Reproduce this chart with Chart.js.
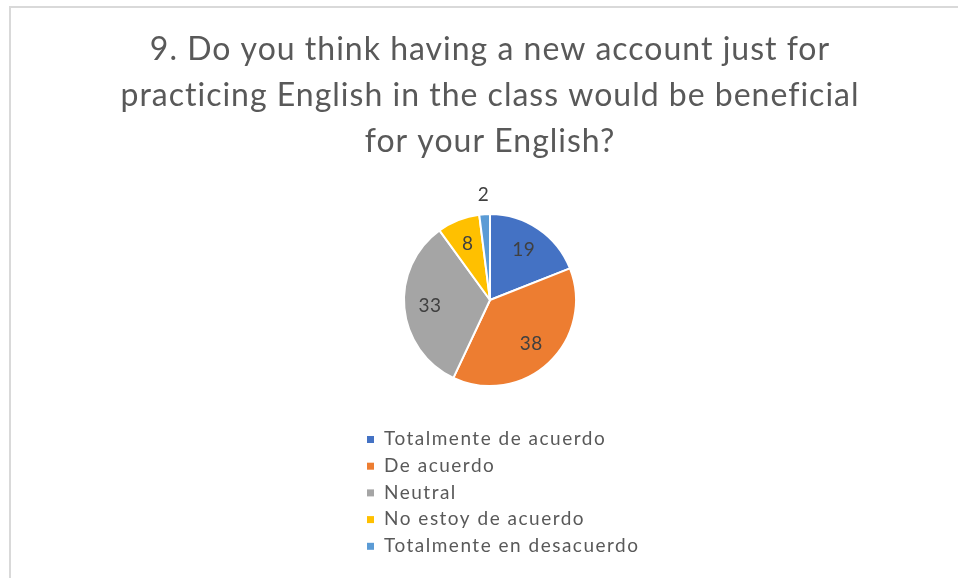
<!DOCTYPE html>
<html>
<head>
<meta charset="utf-8">
<script src="https://cdn.jsdelivr.net/npm/chart.js@4.4.1/dist/chart.umd.min.js"></script>
<style>
    html, body { margin: 0; padding: 0; background: #fff; overflow: hidden; }
    #frame { position: absolute; left: 9px; top: 6px; width: 1000px; height: 1000px; border: 2px solid #d9d9d9; }
    #chart { position: absolute; left: 0; top: 0; }
</style>
</head>
<body>
<div id="frame"></div>
<canvas id="chart" width="958" height="578"></canvas>
<script>
// Survey answers for question 9
const titleLines = [
    '9. Do you think having a new account just for',
    'practicing English in the class would be beneficial',
    'for your English?'
];
const answers = [
    'Totalmente de acuerdo',
    'De acuerdo',
    'Neutral',
    'No estoy de acuerdo',
    'Totalmente en desacuerdo'
];
const counts = [19, 38, 33, 8, 2];
const sliceColors = ['#4472C4', '#ED7D31', '#A5A5A5', '#FFC000', '#5B9BD5'];

const TEXT_COLOR = '#595959';
const FONT = 'Lato, "Liberation Sans", sans-serif';

/**
 * Widens the spacing of the title letters (Chart.js has no option for it).
 */
const titleSpacing = {
    id: 'titleSpacing',
    beforeDraw(chart) {
        chart.ctx.letterSpacing = '1px';
    }
};

/**
 * Writes the count on each slice; very thin slices get it outside the pie.
 */
const sliceLabels = {
    id: 'sliceLabels',
    afterDatasetsDraw(chart) {
        const ctx = chart.ctx;
        const meta = chart.getDatasetMeta(0);
        ctx.save();
        ctx.letterSpacing = '0.5px';
        ctx.font = '19px ' + FONT;
        ctx.fillStyle = '#404040';
        ctx.textAlign = 'center';
        ctx.textBaseline = 'middle';
        meta.data.forEach((arc, i) => {
            const p = arc.getProps(['x', 'y', 'startAngle', 'endAngle', 'outerRadius'], true);
            const mid = (p.startAngle + p.endAngle) / 2;
            const thin = (p.endAngle - p.startAngle) < 0.2;
            const r = p.outerRadius * (thin ? 1.22 : 0.7);
            ctx.fillText(String(counts[i]), p.x + Math.cos(mid) * r, p.y + Math.sin(mid) * r);
        });
        ctx.restore();
    }
};

/**
 * Draws a one-entry-per-row legend under the pie.
 */
const stackedLegend = {
    id: 'stackedLegend',
    afterDraw(chart) {
        const ctx = chart.ctx;
        const left = 367;
        const top = 439;
        const rowHeight = 26.7;
        ctx.save();
        ctx.letterSpacing = '1.5px';
        ctx.font = '19px ' + FONT;
        ctx.textBaseline = 'middle';
        ctx.textAlign = 'left';
        answers.forEach((label, i) => {
            const y = top + i * rowHeight;
            ctx.fillStyle = sliceColors[i];
            ctx.fillRect(left, y - 3, 7, 7);
            ctx.fillStyle = TEXT_COLOR;
            ctx.fillText(label, left + 17, y);
        });
        ctx.restore();
    }
};

document.addEventListener('DOMContentLoaded', function() {
    const ctx = document.getElementById('chart').getContext('2d');
    new Chart(ctx, {
        type: 'pie',
        data: {
            labels: answers,
            datasets: [{
                data: counts,
                backgroundColor: sliceColors,
                borderColor: '#ffffff',
                borderWidth: 2,
                radius: 86
            }]
        },
        options: {
            responsive: false,
            animation: false,
            devicePixelRatio: 1,
            layout: {
                padding: { top: 10, left: 22, right: 0, bottom: 185 }
            },
            plugins: {
                legend: { display: false },
                tooltip: { enabled: false },
                title: {
                    display: true,
                    text: titleLines,
                    color: TEXT_COLOR,
                    font: { family: FONT, size: 32, weight: 'normal', lineHeight: 46 / 32 },
                    padding: { top: 17, bottom: 42 }
                }
            }
        },
        plugins: [titleSpacing, sliceLabels, stackedLegend]
    });
});
</script>
</body>
</html>
